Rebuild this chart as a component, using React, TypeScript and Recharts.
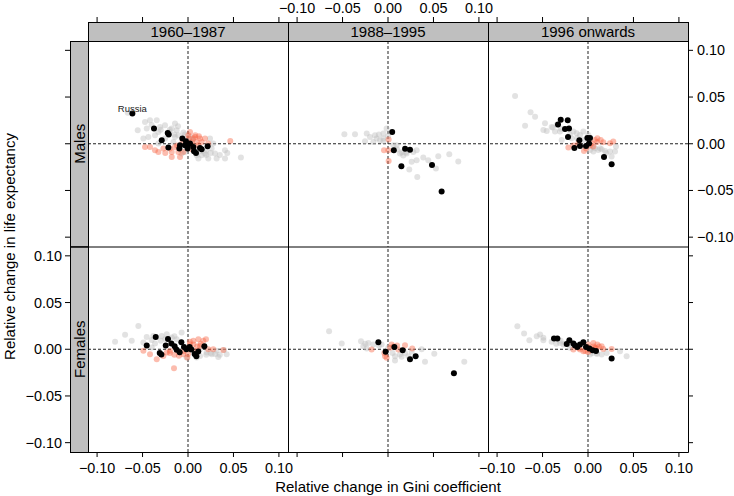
import { ScatterChart, Scatter, XAxis, YAxis, ReferenceLine } from 'recharts';

type Pt = [number, number];

const FONT = '"Liberation Sans", Arial, Helvetica, sans-serif';

// axis ticks, shared by every panel
const xTicks = [-0.1, -0.05, 0, 0.05, 0.1];
const yTicks = [-0.1, -0.05, 0, 0.05, 0.1];

const periods = ['1960–1987', '1988–1995', '1996 onwards'];
const sexes = ['Males', 'Females'];

// ---- Males, 1960–1987
const maleEarlyGrey: Pt[] = [
  [-0.0663, 0.0333], [-0.0553, 0.0144], [-0.0473, 0.0234], [-0.0418, 0.0251], [-0.0344, 0.0251],
  [-0.0454, 0.0162], [-0.0436, 0.0073], [-0.0491, 0.0055], [-0.0363, 0.0091], [-0.0326, 0.0127],
  [-0.0308, 0.018], [-0.0253, 0.0198], [-0.0143, 0.0216], [-0.0125, 0.0144], [-0.0179, 0.0162],
  [-0.0253, 0.0055], [-0.0143, 0.0073], [-0.0161, 0.002], [-0.0326, 0.0002], [-0.0106, 0.0091],
  [-0.0033, 0.0098], [0.0022, 0.0073], [0.0095, -0.0123], [0.015, -0.0123], [0.0187, -0.0105],
  [0.026, -0.0052], [0.0297, -0.0105], [0.0223, -0.0159], [0.0315, -0.0159], [0.0407, -0.007],
  [0.0407, -0.0159], [0.0582, -0.0148], [0.0278, 0.0002], [0.0242, 0.0055], [0.0114, -0.0159],
  [-0.0033, -0.0087], [-0.007, -0.0105], [-0.011, 0.0187], [-0.0205, 0.0125], [0.0066, -0.0066],
  [0.0201, -0.0072], [0.0432, -0.0098], [-0.02, 0.015], [-0.015, 0.01], [-0.005, 0.012],
  [0.005, 0.004], [0.01, -0.005], [0.015, -0.008], [0.02, -0.012], [0.025, -0.01],
  [0.035, -0.012], [-0.04, 0.02], [-0.03, 0.015],
];
const maleEarlySalmon: Pt[] = [
  [0.0022, 0.0127], [0.0077, 0.0073], [0.0132, 0.0055], [0.0187, 0.0055], [0.0095, 0.002],
  [0.015, 0.002], [0.0465, 0.003], [-0.0418, -0.0034], [-0.0363, -0.007], [-0.0326, -0.0087],
  [-0.0179, -0.0141], [-0.0088, -0.0141], [-0.0179, -0.0087], [-0.0143, -0.0034], [-0.0051, -0.0087],
  [0.004, 0.002], [0.0223, 0.0002], [-0.0106, -0.0087], [0.0004, 0.0091], [-0.0271, -0.0052],
  [-0.0473, -0.0034], [0.0059, 0.0055], [0.0114, -0.0016], [-0.02, -0.005], [-0.012, -0.002],
  [-0.006, 0.003], [0.001, 0.006], [0.008, 0.009], [0.012, 0.008], [-0.025, -0.01],
  [0.004, -0.006],
];
const maleEarlyBlack: Pt[] = [
  [-0.0374, 0.0162], [-0.0223, 0.0116], [-0.0212, 0.0098], [-0.0289, 0.0037], [-0.0216, -0.0041],
  [-0.0095, -0.0052], [-0.0062, 0.0055], [-0.0088, -0.0016], [-0.0022, 0.0027], [-0.0004, -0.0027],
  [-0.0004, -0.0052], [0.0022, 0.0002], [0.0059, -0.0034], [0.0066, -0.008], [0.0088, -0.0098],
  [0.0132, -0.0045], [0.015, -0.0059], [0.0216, -0.0027], [-0.0033, -0.0016],
];
const maleEarlyNamed: Pt[] = [[-0.0612, 0.0323]];
const namedCountry = 'Russia';

// ---- Males, 1988–1995
const maleMidGrey: Pt[] = [
  [-0.048, 0.0102], [-0.0363, 0.0102], [-0.0234, 0.0109], [-0.0143, 0.0091], [-0.0051, 0.0109],
  [-0.0015, 0.0162], [-0.0253, 0.0027], [-0.0161, 0.002], [-0.0088, 0.0037], [-0.0051, 0.0055],
  [0.0095, -0.0016], [0.0132, -0.0105], [0.0168, -0.0125], [0.0205, -0.0105], [0.0278, -0.0087],
  [0.0315, -0.007], [0.0315, -0.0176], [0.0388, -0.0148], [0.0443, -0.0176], [0.0553, -0.0134],
  [0.0674, -0.0112], [0.0773, -0.0191], [0.0527, -0.0266], [0.0234, -0.0276], [0.0322, -0.0355],
  [0.0059, -0.0016], [0.026, -0.0194], [-0.0125, 0.0055], [-0.0198, 0.0073], [-0.01, 0.01],
  [-0.005, 0.003], [0.0, 0.008], [0.01, -0.006], [0.015, -0.009], [0.02, -0.009],
];
const maleMidSalmon: Pt[] = [
  [0.0007, 0.0045], [-0.0044, -0.007], [0.0004, -0.007], [0.0007, -0.0184],
];
const maleMidBlack: Pt[] = [
  [0.0046, 0.0127], [0.0064, -0.0069], [0.0188, -0.0054], [0.0242, -0.0065], [0.0147, -0.024],
  [0.0484, -0.0228], [0.059, -0.051],
];

// ---- Males, 1996 onwards
const maleLateGrey: Pt[] = [
  [-0.0802, 0.0512], [-0.0632, 0.0337], [-0.0582, 0.029], [-0.0692, 0.0194], [-0.0473, 0.0219],
  [-0.0454, 0.0137], [-0.0491, 0.0148], [-0.0388, 0.0173], [-0.0344, 0.0201], [-0.0363, 0.013],
  [-0.0308, 0.013], [-0.0161, 0.013], [-0.0125, 0.0112], [-0.0088, 0.0094], [-0.0051, 0.013],
  [-0.018, 0.0059], [-0.0289, 0.0041], [0.0077, -0.0048], [0.0114, -0.0066], [0.0132, -0.0048],
  [0.0187, -0.0077], [0.0242, -0.0084], [0.0308, -0.003], [0.0297, -0.0084], [0.026, -0.0137],
  [0.0059, -0.0084], [0.0022, -0.0066], [0.0004, 0.0094], [-0.04, 0.018], [-0.03, 0.016],
  [-0.02, 0.01], [-0.012, 0.006], [-0.005, 0.004], [0.005, -0.003], [0.015, -0.006],
  [0.02, -0.01],
];
const maleLateSalmon: Pt[] = [
  [0.0077, 0.0041], [0.0103, 0.0059], [0.0168, 0.0016], [0.0242, 0.0005], [0.0278, 0.0023],
  [-0.0216, -0.0041], [-0.0161, -0.002], [-0.0044, -0.0077], [0.004, 0.0005], [-0.0106, 0.0005],
  [0.0059, -0.003], [0.01, 0.002], [0.014, 0.004], [-0.002, -0.005], [0.002, -0.002],
];
const maleLateBlack: Pt[] = [
  [-0.033, 0.0205], [-0.03, 0.0258], [-0.0223, 0.0251], [-0.0253, 0.0159], [-0.0209, 0.0162],
  [-0.022, 0.0073], [-0.015, -0.0045], [-0.0095, 0.0037], [-0.0088, -0.0023], [-0.0022, -0.0023],
  [-0.0007, 0.0062], [0.0022, 0.0062], [0.0011, 0.0002], [0.0176, -0.0141], [0.026, -0.0219],
];

// ---- Females, 1960–1987
const femaleEarlyGrey: Pt[] = [
  [-0.0802, 0.0079], [-0.0692, 0.0154], [-0.0619, 0.009], [-0.0546, 0.025], [-0.0491, 0.0072],
  [-0.0454, 0.0132], [-0.0381, 0.0143], [-0.029, 0.0143], [-0.0234, 0.0161], [-0.0179, 0.0125],
  [-0.007, 0.0179], [-0.0125, 0.0107], [-0.0399, 0.0018], [0.0132, 0.0], [0.0205, -0.0035],
  [0.026, -0.0053], [0.0315, -0.0017], [0.0396, -0.0007], [0.0425, -0.0053], [0.0095, -0.0089],
  [0.0132, -0.0071], [0.0333, -0.0082], [-0.0015, -0.0089], [-0.0088, -0.0035], [-0.0363, 0.0061],
  [-0.03, 0.009], [-0.025, 0.011], [-0.04, 0.01], [0.02, -0.006], [0.025, -0.004],
  [0.03, -0.005], [0.035, -0.006], [-0.015, 0.014],
];
const femaleEarlySalmon: Pt[] = [
  [-0.0491, -0.0017], [-0.0418, -0.0053], [-0.0344, -0.0107], [-0.0271, -0.0071], [-0.0234, -0.0035],
  [-0.0198, -0.0017], [-0.0154, -0.0203], [0.0059, 0.009], [0.0114, 0.0107], [0.0168, 0.009],
  [0.0198, 0.0107], [0.0132, 0.0036], [0.0223, 0.0], [0.0278, 0.0], [0.0388, -0.0007],
  [-0.0007, -0.0089], [-0.0051, -0.0053], [0.0022, 0.0054], [0.0095, -0.0017], [-0.02, -0.004],
  [-0.015, -0.006], [-0.01, -0.007], [0.002, 0.008], [0.006, 0.005], [0.01, 0.003],
  [0.014, 0.006], [-0.005, -0.002], [0.0, -0.005],
];
const femaleEarlyBlack: Pt[] = [
  [-0.0454, 0.0039], [-0.0355, 0.0132], [-0.0311, -0.0039], [-0.0293, -0.0057], [-0.022, 0.011],
  [-0.0245, 0.0039], [-0.0183, 0.0061], [-0.0147, 0.0032], [-0.0125, -0.0005], [-0.0092, -0.0032],
  [-0.0073, 0.0075], [-0.0044, 0.0025], [-0.0018, 0.0], [0.0018, 0.0025], [0.0037, -0.0004],
  [0.0073, -0.005], [0.0092, -0.0075], [0.0113, -0.0025], [0.018, 0.0032],
];

// ---- Females, 1988–1995
const femaleMidGrey: Pt[] = [
  [-0.0648, 0.0193], [-0.0509, 0.0061], [-0.0297, 0.0086], [-0.0216, 0.0068], [-0.0271, 0.0032],
  [-0.0234, 0.0007], [-0.0161, 0.005], [-0.007, 0.005], [0.0077, -0.0075], [0.0077, -0.0121],
  [0.0132, -0.0057], [0.026, -0.0028], [0.037, 0.0], [0.0407, -0.0135], [0.0509, -0.0049],
  [0.0839, -0.0135], [0.0004, 0.0015], [0.0187, -0.0039], [0.0223, -0.0075], [-0.025, 0.006],
  [-0.01, 0.004], [0.005, -0.004], [0.015, -0.008],
];
const femaleMidSalmon: Pt[] = [
  [-0.018, -0.0003], [-0.0033, -0.0075], [0.0022, 0.0015], [0.004, 0.005], [0.0114, -0.0003],
  [0.0187, 0.0043], [0.0267, 0.0007], [-0.004, -0.0039], [-0.0015, -0.0092], [0.006, 0.003],
  [0.01, 0.004],
];
const femaleMidBlack: Pt[] = [
  [-0.0106, 0.0075], [-0.0026, -0.0028], [0.007, 0.0025], [0.0161, -0.001], [0.0242, -0.0107],
  [0.0304, -0.0075], [0.0725, -0.0257],
];

// ---- Females, 1996 onwards
const femaleLateGrey: Pt[] = [
  [-0.0777, 0.0246], [-0.0703, 0.0168], [-0.0645, 0.0097], [-0.0564, 0.0139], [-0.0527, 0.0157],
  [-0.0491, 0.0122], [-0.0491, 0.0097], [-0.0308, 0.0068], [-0.0271, 0.005], [-0.0198, 0.0015],
  [0.0095, -0.0039], [0.015, -0.0057], [0.0205, -0.0039], [0.0352, -0.0021], [0.0425, -0.0075],
  [0.0022, -0.0057], [-0.04, 0.008], [-0.035, 0.006], [-0.03, 0.009], [-0.025, 0.006],
  [-0.018, 0.004], [0.005, -0.004], [0.01, -0.005],
];
const femaleLateSalmon: Pt[] = [
  [-0.0161, -0.0003], [-0.0088, -0.0003], [-0.0051, -0.0021], [0.0004, 0.005], [0.0059, 0.0068],
  [0.0103, 0.005], [0.015, 0.0032], [0.0168, 0.0004], [0.026, 0.0004], [0.0077, 0.0015],
  [0.004, 0.0004], [0.0, 0.002], [0.003, -0.001], [0.006, 0.003], [0.009, 0.001],
  [0.012, 0.003], [0.0, -0.003], [-0.003, -0.002], [-0.01, 0.001],
];
const femaleLateBlack: Pt[] = [
  [-0.0374, 0.0114], [-0.0337, 0.0114], [-0.0234, 0.0057], [-0.0205, 0.0096], [-0.0161, 0.0061],
  [-0.0143, 0.0039], [-0.0117, 0.0025], [-0.0088, 0.005], [-0.0051, 0.0075], [-0.0022, 0.0025],
  [0.0015, 0.0007], [0.0051, -0.0011], [0.0088, -0.0018], [0.026, -0.01],
];

const panels = [
  { row: 0, col: 0, grey: maleEarlyGrey, salmon: maleEarlySalmon, black: maleEarlyBlack, named: maleEarlyNamed },
  { row: 0, col: 1, grey: maleMidGrey, salmon: maleMidSalmon, black: maleMidBlack, named: [] as Pt[] },
  { row: 0, col: 2, grey: maleLateGrey, salmon: maleLateSalmon, black: maleLateBlack, named: [] as Pt[] },
  { row: 1, col: 0, grey: femaleEarlyGrey, salmon: femaleEarlySalmon, black: femaleEarlyBlack, named: [] as Pt[] },
  { row: 1, col: 1, grey: femaleMidGrey, salmon: femaleMidSalmon, black: femaleMidBlack, named: [] as Pt[] },
  { row: 1, col: 2, grey: femaleLateGrey, salmon: femaleLateSalmon, black: femaleLateBlack, named: [] as Pt[] },
];

// layout of the trellis (pixels)
const W = 734;
const H = 496;
const LEFT = 88;
const PW = 200;
const TOPS = [41, 246.5];
const PH = 205.5;
const X_H = 30;
const Y_W = 40;
const STRIP = 19;
const TICK_FS = 14.4;

const toData = (pts: Pt[]) => pts.map(([x, y]) => ({ x, y }));
const fmt = (v: number) => (v < 0 ? '\u2212' : '') + Math.abs(v).toFixed(2);

const dot = (fill: string, opacity: number) => (p: any) => (
  <circle cx={p.cx} cy={p.cy} r={3} fill={fill} fillOpacity={opacity} />
);

const namedDot = (p: any) => (
  <g>
    <circle cx={p.cx} cy={p.cy} r={3} fill="#000" />
    <text x={p.cx} y={p.cy - 1.5} textAnchor="middle" fontSize={9.5} fontFamily={FONT} fill="#222">
      {namedCountry}
    </text>
  </g>
);

function TopTick({ x, y, payload, show }: any) {
  return (
    <g>
      <line x1={x} x2={x} y1={y - STRIP} y2={y - STRIP - 5} stroke="#000" />
      {show && (
        <text x={x} y={y - STRIP - 9} textAnchor="middle" fontSize={TICK_FS} fontFamily={FONT} fill="#000">
          {fmt(payload.value)}
        </text>
      )}
    </g>
  );
}

function BottomTick({ x, y, payload, show }: any) {
  return (
    <g>
      <line x1={x} x2={x} y1={y} y2={y + 5} stroke="#000" />
      {show && (
        <text x={x} y={y + 21} textAnchor="middle" fontSize={TICK_FS} fontFamily={FONT} fill="#000">
          {fmt(payload.value)}
        </text>
      )}
    </g>
  );
}

function LeftTick({ x, y, payload, show }: any) {
  return (
    <g>
      <line x1={x - 18} x2={x - 23} y1={y} y2={y} stroke="#000" />
      {show && (
        <text x={x - 26} y={y + 5} textAnchor="end" fontSize={TICK_FS} fontFamily={FONT} fill="#000">
          {fmt(payload.value)}
        </text>
      )}
    </g>
  );
}

function RightTick({ x, y, payload, show }: any) {
  return (
    <g>
      <line x1={x} x2={x + 5} y1={y} y2={y} stroke="#000" />
      {show && (
        <text x={x + 9} y={y + 5} textAnchor="start" fontSize={TICK_FS} fontFamily={FONT} fill="#000">
          {fmt(payload.value)}
        </text>
      )}
    </g>
  );
}

function Panel({ row, col, grey, salmon, black, named }: (typeof panels)[number]) {
  const plotLeft = LEFT + PW * col;
  const plotTop = TOPS[row];
  const margin = {
    left: plotLeft - (col === 0 ? Y_W : 0),
    right: W - (plotLeft + PW) - (col === 2 ? Y_W : 0),
    top: plotTop - (row === 0 ? X_H : 0),
    bottom: H - (plotTop + PH) - (row === 1 ? X_H : 0),
  };
  const yCommon = {
    type: 'number' as const,
    dataKey: 'y',
    domain: [-0.11, 0.11],
    ticks: yTicks,
    allowDataOverflow: true,
  };
  return (
    <div style={{ position: 'absolute', left: 0, top: 0 }}>
      <ScatterChart width={W} height={H} margin={margin}>
        <XAxis
          type="number"
          dataKey="x"
          domain={[-0.11, 0.11]}
          ticks={xTicks}
          allowDataOverflow
          interval={0}
          orientation={row === 0 ? 'top' : 'bottom'}
          height={X_H}
          axisLine={false}
          tickLine={false}
          tickSize={0}
          tickMargin={0}
          tick={(p: any) =>
            row === 0 ? <TopTick {...p} show={col === 1} /> : <BottomTick {...p} show={col !== 1} />
          }
        />
        {col === 1 ? (
          <YAxis {...yCommon} hide />
        ) : (
          <YAxis
            {...yCommon}
            interval={0}
            orientation={col === 0 ? 'left' : 'right'}
            width={Y_W}
            axisLine={false}
            tickLine={false}
            tickSize={0}
            tickMargin={0}
            tick={(p: any) =>
              col === 0 ? <LeftTick {...p} show={row === 1} /> : <RightTick {...p} show={row === 0} />
            }
          />
        )}
        <ReferenceLine x={0} stroke="#222" strokeDasharray="3 2" />
        <ReferenceLine y={0} stroke="#222" strokeDasharray="3 2" />
        <Scatter data={toData(grey)} shape={dot('#bebebe', 0.45)} isAnimationActive={false} />
        <Scatter data={toData(salmon)} shape={dot('#f7603f', 0.42)} isAnimationActive={false} />
        <Scatter data={toData(black)} shape={dot('#000', 1)} isAnimationActive={false} />
        {named.length > 0 && <Scatter data={toData(named)} shape={namedDot} isAnimationActive={false} />}
      </ScatterChart>
    </div>
  );
}

function Frame() {
  const right = LEFT + PW * 3;
  const bottom = TOPS[1] + PH;
  return (
    <svg width={W} height={H} style={{ position: 'absolute', left: 0, top: 0, pointerEvents: 'none' }}>
      <g fill="#bfbfbf" stroke="#000" strokeWidth={1}>
        {periods.map((p, i) => (
          <rect key={p} x={LEFT + PW * i + 0.5} y={TOPS[0] - STRIP + 0.5} width={PW} height={STRIP} />
        ))}
        {sexes.map((s, i) => (
          <rect key={s} x={LEFT - 18 + 0.5} y={TOPS[i] + 0.5} width={18} height={PH} />
        ))}
      </g>
      <g fill="none" stroke="#000" strokeWidth={1}>
        <line x1={LEFT - 18 + 0.5} x2={right + 0.5} y1={TOPS[1] + 0.5} y2={TOPS[1] + 0.5} />
        <line x1={LEFT - 18 + 0.5} x2={right + 0.5} y1={bottom + 0.5} y2={bottom + 0.5} />
        {[0, 1, 2, 3].map((i) => (
          <line key={i} x1={LEFT + PW * i + 0.5} x2={LEFT + PW * i + 0.5} y1={TOPS[0] - STRIP + 0.5} y2={bottom + 0.5} />
        ))}
      </g>
      <g fontFamily={FONT} fontSize={15} fill="#000">
        {periods.map((p, i) => (
          <text key={p} x={LEFT + PW * i + PW / 2} y={TOPS[0] - STRIP / 2 + 5.5} textAnchor="middle">
            {p}
          </text>
        ))}
        {sexes.map((s, i) => {
          const cy = TOPS[i] + PH / 2;
          return (
            <text key={s} x={LEFT - 3.5} y={cy} textAnchor="middle" transform={`rotate(-90 ${LEFT - 3.5} ${cy})`}>
              {s}
            </text>
          );
        })}
        <text x={(LEFT + right) / 2} y={492} textAnchor="middle">
          Relative change in Gini coefficient
        </text>
        <text x={15} y={(TOPS[0] + bottom) / 2} textAnchor="middle" transform={`rotate(-90 15 ${(TOPS[0] + bottom) / 2})`}>
          Relative change in life expectancy
        </text>
      </g>
    </svg>
  );
}

export default function App() {
  return (
    <div style={{ position: 'absolute', left: 0, top: 0, width: W, height: H, background: '#fff' }}>
      {panels.map((p) => (
        <Panel key={`${p.row}-${p.col}`} {...p} />
      ))}
      <Frame />
    </div>
  );
}
